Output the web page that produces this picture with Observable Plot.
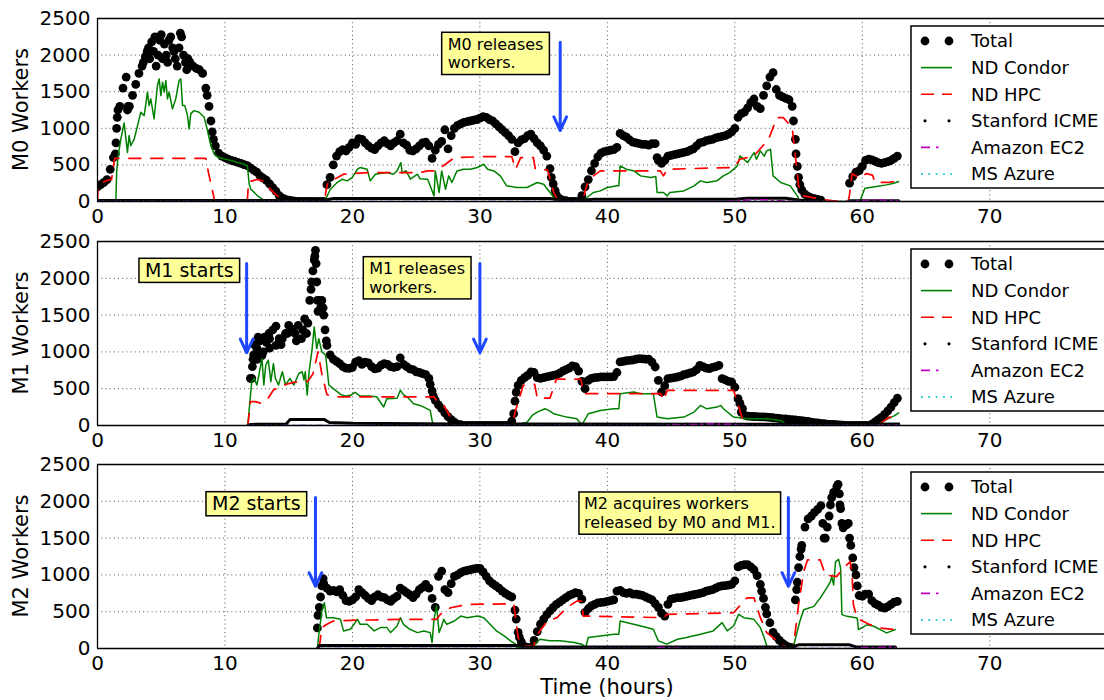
<!DOCTYPE html>
<html><head><meta charset="utf-8">
<script src="https://cdn.jsdelivr.net/npm/d3@7"></script>
<script src="https://cdn.jsdelivr.net/npm/@observablehq/plot@0.6"></script>
<style>
html,body{margin:0;padding:0;background:#fff;overflow:hidden;}
#chart{width:1104px;height:700px;position:relative;}
#chart svg{display:block;position:absolute;left:0;}
</style></head><body><div id="chart"></div>
<script>
const STEP = 0.25;
const xTicks = [0,10,20,30,40,50,60,70];
const yTicks = [0,500,1000,1500,2000,2500];
const seriesNames = ["Total","ND Condor","ND HPC","Stanford ICME","Amazon EC2","MS Azure"];
const panelLabels = ["M0 Workers","M1 Workers","M2 Workers"];
const xLabel = "Time (hours)";

// ---------- M0 ----------
const m0TotalStart = 0;
const m0Total = [
200,230,260,300, 440,600,1000,1300, 1550,1700,1300,1450, 1600,1750,1850,1980,
2100,2180,2250,2000, 2280,2150,1900,2250, 2050,1850,2300,2000, 1800,1900,1850,1820,
1800,1750,1550,1300, 950,760,660,620, 600,580,560,550, 535,520,505,490,
460,430,400,350, 320,290,240,190, 140,80,50,30, 20,10,5,0,
0,0,0,0, 0,0,0,0, 230,330,500,620, 680,710,690,740,
800,780,860,850, 800,760,730,710, 760,800,830,790, 760,800,830,920,
800,770,700,690, 720,760,800,810, 760,590,700,780, 820,980,720,900,
1000,1040,1060,1080, 1090,1100,1110,1120, 1140,1160,1150,1120, 1100,1060,1020,980,
940,900,850,680, 800,840,860,900, 920,860,800,760, 700,620,450,240,
90,40,20,10, 0,0,0,0, 80,200,300,420, 520,610,660,680,
690,700,710,740, 930,900,880,840, 810,800,790,780, 780,770,790,790,
560,520,560,620, 630,640,650,660, 670,680,700,720, 760,800,810,830,
840,850,870,880, 890,900,920,950, 1000,1150,1200,1220, 1280,1350,1400,1300,
1270,1450,1580,1700, 1760,1530,1450,1430, 1410,1390,1300,850, 330,160,100,70,
50,40,30,20, null,null,null,null, null,null,null,null, 250,340,400,420,
480,560,580,570, 550,530,520,530, 545,560,590,620];
const m0TotalExtra = [[1.4,650],[1.45,800],[1.55,1150],[1.6,1250],[2.35,1250],[2.4,1300],[3.6,1900],[3.9,2050],[4.1,1950],[4.4,2050],[4.6,1850],[4.9,2200],[5.1,1950],[5.4,2000],[5.6,2200],[5.9,2100],[6.1,1950],[6.4,2100],[6.6,2250],[6.9,1900],[7.1,1950],[8.6,1450],[8.9,1100],[9.1,850],[35.6,330],[35.9,150],[43.9,600],[54.6,1100],[54.8,650],[54.9,480],[55.1,230]];
const m0Condor = [[1.44,0],[1.5,400],[1.62,625],[1.83,853],[2.09,1073],[2.35,671],[2.48,900],[2.61,762],[2.88,853],[3.14,1036],[3.4,1219],[3.66,1173],[3.92,1493],[4.05,1310],[4.18,1402],[4.44,1128],[4.7,1584],[4.84,1675],[4.97,1447],[5.1,1630],[5.23,1493],[5.36,1653],[5.49,1402],[5.62,1493],[5.88,1265],[6.14,1402],[6.4,1653],[6.54,1675],[6.67,1310],[6.85,1310],[7.06,1173],[7.19,990],[7.32,1200],[7.58,1242],[7.97,1219],[8.37,1150],[8.63,968],[8.89,762],[9.15,648],[9.5,600],[9.93,580],[10.5,560],[10.98,534],[11.4,515],[11.76,489],[11.9,237],[12.03,169],[12.55,78],[12.94,32],[13.5,0],[17.85,0],
[17.9,32],[18.27,168],[18.8,259],[19.2,305],[19.6,282],[19.97,327],[20.4,441],[20.6,464],[21.15,441],[21.4,282],[21.8,373],[22.7,395],[23.2,373],[23.5,418],[23.8,532],[23.9,390],[24.2,420],[24.55,305],[25.1,373],[25.3,310],[25.9,305],[26.1,214],[26.4,77],[26.5,418],[26.8,123],[27.0,418],[27.3,168],[27.55,350],[27.8,259],[28.2,418],[28.7,441],[29.25,441],[29.8,464],[30.3,509],[30.6,441],[31.1,418],[31.6,350],[32.1,214],[32.9,191],[33.7,191],[34.5,259],[35.0,236],[35.5,123],[35.8,55],[36.05,0],[38.1,0],[38.4,55],[38.9,123],[39.45,145],[40.0,191],[40.75,214],[40.9,214],[41.0,486],[41.5,441],[42.1,418],[42.6,350],[43.4,327],[43.8,340],[43.9,123],[44.4,123],[44.7,77],[44.9,123],[46.0,145],[46.8,214],[47.3,282],[47.8,259],[48.6,282],[49.1,350],[49.6,395],[50.2,486],[50.4,623],[51.0,532],[51.5,668],[51.7,577],[52.0,691],[52.3,620],[52.5,691],[52.8,714],[53.0,350],[53.6,259],[54.35,214],[54.9,77],[55.1,0],[59.8,0],[60.2,182],[61.1,205],[61.9,227],[62.46,250],[62.85,273]];
const m0Hpc = [[0,0],[0.05,200],[0.4,260],[0.8,290],[1.1,300],[1.35,590],[8.5,590],[8.7,400],[9.2,0],[11.75,0],[11.85,270],[12.5,300],[13.0,280],[13.5,180],[14.0,90],[14.5,40],[15.0,10],[16,0],[17.85,0],[17.9,123],[18.1,282],[18.7,314],[19.3,373],[21.15,395],[25.3,395],[25.9,418],[26.5,418],[26.9,464],[27.3,509],[28.0,600],[30.6,614],[32.5,614],[32.8,441],[33.2,600],[34.2,600],[34.35,441],[35.3,432],[35.5,305],[35.8,123],[36.05,32],[36.3,0],[38.0,0],[38.1,32],[38.4,236],[38.9,350],[39.45,418],[44.15,418],[44.4,350],[44.7,441],[49.9,464],[50.4,577],[51.5,623],[52.65,850],[53.3,1145],[53.8,1145],[54.5,1009],[54.75,623],[55.0,214],[55.4,77],[56.7,32],[57.75,9],[58.9,5],[59.0,100],[59.2,380],[59.8,320],[60.3,380],[60.8,360],[61.0,260],[62.0,260],[62.85,280]];
const m0Icme = [[0,15],[14,15],[17.9,20],[18.5,40],[35.5,40],[36.5,15],[38.2,20],[39,30],[50,30],[51,45],[54,45],[55,20],[57,10],[57.1,null],[59,10],[62.85,10]];
const m0Ec2 = [[0,0],[49,0],[50.5,15],[52,25],[53,15],[55,0],[59,0],[60,15],[61,20],[62.8,15]];
const m0Azure = [[0,0],[62.85,0]];

// ---------- M1 ----------
const m1TotalStart = 12;
const m1Total = [
640,960,1050,1150, 1000,1130,1180,1300, 1090,1180,1180,1250, 1360,1310,1250,1360,
1180,1450,1390,1850, 2250,1700,1600,1500, 1090,960,900,870, 840,800,780,775,
790,860,880,830, 860,850,800,770, 780,820,840,830, 800,790,800,920,
830,800,770,760, 730,720,705,690, 640,470,340,280, 230,170,120,80,
45,20,10,0, 0,0,0,0, 0,0,0,0, 0,0,0,0,
0,0,60,330, 545,614,650,680, 727,720,650,640, 650,660,670,680,
690,710,740,760, 780,810,800,740, 600,500,614,640, 650,655,660,660,
660,660,665,720, 864,870,880,886, 890,900,909,905, 900,900,860,795,
614,455,540,636, 645,650,659,670, 690,700,715,727, 760,818,800,780,
773,790,800,818, 636,620,600,591, 520,364,182,140, 127,125,122,120,
118,116,114,110, 105,100,95,91, 88,82,78,75, 70,65,60,55,
45,40,36,30, 25,20,16,14, 10,8,5,3, 0,0,0,0,
0,0,0,20, 50,80,110,150, 200,250,310,370];
const m1TotalExtra = [[12.1,640],[12.15,800],[12.2,900],[12.3,1100],[12.4,900],[12.55,900],[12.6,1200],[12.7,1000],[12.9,950],[13.1,1200],[13.45,1250],[13.5,1050],[14.0,1350],[14.4,1100],[14.9,1250],[15.6,1150],[16.1,1300],[16.4,1250],[16.65,1700],[16.8,1950],[16.9,2100],[17.05,2300],[17.1,2380],[17.15,2200],[17.2,1950],[17.3,1550],[17.4,1700],[17.6,1700],[17.7,1600],[17.85,1300],[17.95,1150],[26.1,560],[26.35,400],[32.65,160],[32.85,450],[50.4,300],[50.6,230]];
const m1Condor = [[11.8,30],[12.1,595],[12.3,640],[12.5,550],[12.66,685],[12.9,910],[13.05,550],[13.2,820],[13.4,887],[13.6,595],[13.8,842],[13.96,640],[14.2,550],[14.5,730],[14.75,550],[15.1,640],[15.4,550],[15.8,707],[16.06,730],[16.2,620],[16.3,730],[16.45,414],[16.6,730],[16.84,1045],[17.0,1338],[17.2,1045],[17.36,1180],[17.6,1000],[17.9,955],[18.15,550],[18.5,500],[19.1,420],[19.45,400],[19.85,410],[20.2,450],[20.6,400],[21.3,400],[21.9,390],[22.45,252],[22.7,365],[23.5,370],[23.76,480],[24.0,420],[24.3,386],[24.8,295],[25.3,273],[25.6,250],[26.1,205],[26.25,68],[26.4,0],[32.65,0],[33.7,45],[34.1,136],[34.5,182],[35.1,227],[35.4,205],[35.8,159],[36.8,114],[37.6,91],[38.0,9],[38.5,159],[39.45,205],[40.5,227],[40.9,227],[41.0,432],[42.06,455],[42.6,432],[43.6,432],[43.9,114],[44.7,91],[46.0,114],[46.8,182],[47.3,273],[47.8,227],[48.6,250],[48.9,273],[49.1,227],[49.9,114],[51.0,91],[52.5,91],[53.6,68],[53.8,45],[54.1,0],[61.0,0],[61.5,40],[62.0,90],[62.5,130],[62.85,170]];
const m1Hpc = [[11.8,0],[12.0,324],[12.4,324],[12.8,302],[13.3,347],[13.8,482],[14.6,550],[15.4,585],[16.06,595],[16.5,600],[16.9,700],[17.3,1000],[17.6,700],[18.0,420],[18.5,390],[26.4,390],[26.6,340],[27.0,318],[27.7,114],[28.1,0],[32.5,0],[32.8,205],[33.4,545],[34.3,560],[34.5,370],[35.5,373],[36.0,630],[37.9,630],[38.2,432],[44.2,432],[44.4,341],[44.7,477],[49.9,477],[50.2,318],[50.6,91],[51.0,30],[51.5,0],[61.2,0],[62.0,100],[62.85,160]];
const m1Icme = [[11.8,0],[12.0,15],[14.8,20],[15.1,80],[17.8,80],[18.2,40],[20,30],[28,20],[58,15],[62.85,20]];
const m1Ec2 = [[11.8,0],[44.5,0],[45,15],[46,10],[48,20],[50,15],[51,0],[60,0],[62.85,5]];
const m1Azure = [[11.8,0],[62.85,0]];

// ---------- M2 ----------
const m2TotalStart = 17.25;
const m2Total = [
280,700,880,
820,780,790,770, 800,720,650,640, 660,700,800,760, 720,680,650,700,
730,700,690,660, 640,680,710,820, 790,760,730,690, 740,800,830,870,
820,680,560,980, 1050,800,760,880, 980,1000,1030,1050, 1060,1070,1080,1090,
1090,1040,980,920, 880,850,820,780, 750,720,700,520, 220,90,30,15,
20,110,230,330, 400,460,510,560, 600,630,660,690, 720,740,760,750,
670,490,540,580, 600,620,625,630, 640,650,660,780, 790,760,750,760,
740,740,730,720, 700,680,660,610, 560,480,440,600, 670,680,690,690,
700,710,720,730, 740,750,760,780, 790,800,820,840, 850,855,860,870,
920,1110,1130,1140, 1140,1110,1070,990, 870,680,470,350, 220,160,110,70,
40,20,10,660, 1100,1400,1650,1760, 1800,1850,1890,1940, 1500,1650,1950,2120,
2200,1950,1640,1680, 1500,1230,1000,720, 710,740,740,650, 610,590,560,550,
570,600,630,640];
const m2TotalExtra = [[17.3,450],[17.4,560],[17.6,850],[17.7,950],[32.85,400],[33.1,150],[52.1,780],[52.4,560],[54.85,800],[54.9,900],[55.1,1250],[55.2,1350],[56.9,1700],[57.1,1500],[57.4,1800],[57.6,2050],[58.1,2230],[58.2,2100],[58.3,1900],[58.4,1700],[58.6,1680],[58.9,1700],[59.1,1400],[59.35,1100],[59.6,850]];
const m2Condor = [[17.25,0],[17.35,171],[17.6,509],[17.8,622],[17.96,419],[18.15,419],[18.5,419],[19.06,396],[19.3,239],[19.84,261],[20.4,396],[20.6,329],[21.15,329],[21.7,239],[22.2,284],[22.7,284],[23.0,216],[23.5,306],[23.76,419],[24.0,329],[24.5,261],[25.1,216],[25.6,239],[26.1,216],[26.25,81],[26.4,396],[26.6,577],[26.8,216],[27.0,306],[27.16,396],[27.4,329],[28.0,374],[28.5,441],[29.0,419],[29.8,441],[30.3,419],[30.8,329],[31.3,239],[31.9,171],[32.4,104],[32.8,59],[32.9,14],[33.5,0],[34.2,36],[34.7,126],[35.5,104],[36.3,104],[37.4,81],[38.0,59],[38.3,14],[38.5,149],[39.45,171],[40.5,194],[40.9,194],[41.0,374],[42.06,329],[43.1,284],[43.6,261],[44.0,104],[44.67,59],[45.5,126],[46.2,149],[47.3,194],[48.3,239],[49.0,351],[49.4,239],[49.9,306],[50.3,464],[50.7,419],[51.5,396],[52.0,284],[52.3,149],[52.5,36],[52.8,0],[54.6,32],[55.1,370],[55.4,527],[56.2,572],[56.7,685],[57.2,820],[57.5,910],[57.6,977],[57.75,865],[57.9,1180],[58.14,1210],[58.3,1090],[58.4,460],[58.8,437],[59.6,414],[59.7,257],[60.4,324],[60.9,302],[61.4,257],[61.9,212],[62.6,257]];
const m2Hpc = [[17.4,14],[17.6,284],[18.0,329],[18.5,374],[19.84,383],[23.76,396],[26.6,396],[26.9,464],[27.7,554],[29.0,599],[32.65,608],[32.8,419],[33.0,149],[33.4,36],[34.2,36],[34.7,239],[35.3,374],[36.05,419],[36.8,554],[37.6,644],[38.0,644],[38.1,441],[44.4,419],[44.67,464],[49.9,486],[50.95,689],[51.5,689],[52.0,419],[52.5,216],[53.8,36],[54.35,14],[54.6,32],[55.0,595],[55.4,1045],[55.7,1203],[56.7,1203],[57.1,1000],[58.0,977],[58.5,1090],[59.05,1180],[59.2,1000],[59.3,595],[59.6,414],[59.8,392],[60.6,324],[61.4,279],[62.6,257]];
const m2Icme = [[17.25,0],[17.4,40],[33,40],[33.5,20],[54.5,20],[55,50],[59,50],[59.5,20],[62.6,20]];
const m2Ec2 = [[17.25,0],[43.5,0],[44,15],[45,10],[46,0],[59.5,0],[60,15],[61,10],[62,20],[62.6,15]];
const m2Azure = [[17.25,0],[62.6,0]];

// ---------- rendering ----------
const FONT = "'DejaVu Sans', Verdana, sans-serif";
const COL = {total:"#000000", condor:"#008000", hpc:"#ff0000", icme:"#000000", ec2:"#bf00bf", azure:"#00bfbf"};
const BLUE = "#1f47ff";
const NOTE_FILL = "#ffff99";
const pairs = a => a.map(([t,v]) => ({t, v: v == null ? NaN : v}));

const panels = [
  {label: panelLabels[0], total: m0Total, totalStart: m0TotalStart, totalExtra: m0TotalExtra, condor: m0Condor, hpc: m0Hpc, icme: m0Icme, ec2: m0Ec2, azure: m0Azure,
   top: 0, height: 232, marginTop: 18, marginBottom: 31,
   notes: [{t: 27.04, v: 2305, lines: ["M0 releases","workers."], size: 16, padX: 6, padY: 2.5}],
   arrows: [{t: 36.3, from: 2176, to: 970}]},
  {label: panelLabels[1], total: m1Total, totalStart: m1TotalStart, totalExtra: m1TotalExtra, condor: m1Condor, hpc: m1Hpc, icme: m1Icme, ec2: m1Ec2, azure: m1Azure,
   top: 224, height: 232, marginTop: 17, marginBottom: 31,
   notes: [{t: 3.29, v: 2265, lines: ["M1 starts"], size: 19, padX: 6, padY: 1},
           {t: 20.89, v: 2287, lines: ["M1 releases","workers."], size: 16, padX: 6, padY: 2.5}],
   arrows: [{t: 11.7, from: 2200, to: 990}, {t: 30.0, from: 2200, to: 990}]},
  {label: panelLabels[2], total: m2Total, totalStart: m2TotalStart, totalExtra: m2TotalExtra, condor: m2Condor, hpc: m2Hpc, icme: m2Icme, ec2: m2Ec2, azure: m2Azure,
   top: 448, height: 252, marginTop: 16, marginBottom: 52, xLabel: true,
   notes: [{t: 8.55, v: 2124, lines: ["M2 starts"], size: 19, padX: 6, padY: 1},
           {t: 37.81, v: 2120, lines: ["M2 acquires workers","released by M0 and M1."], size: 16, padX: 5, padY: 2.5}],
   arrows: [{t: 17.1, from: 2050, to: 845}, {t: 54.2, from: 2050, to: 845}]}
];

const root = document.getElementById("chart");

panels.forEach(p => {
  const tot = p.total.map((v,i) => ({t: p.totalStart + i*STEP, v}))
    .filter(d => d.v != null).concat(pairs(p.totalExtra));
  const gridStyle = {stroke: "#000", strokeOpacity: 0.85, strokeWidth: 0.8, strokeDasharray: "1,3.2"};
  const plot = Plot.plot({
    width: 1104, height: p.height,
    marginLeft: 97, marginRight: 0, marginTop: p.marginTop, marginBottom: p.marginBottom,
    style: {fontFamily: FONT, fontSize: "20px", color: "#000", background: "transparent", overflow: "hidden"},
    x: {domain: [0, 79], ticks: xTicks, tickFormat: d => String(d), tickSize: 0, tickPadding: 7, label: null},
    y: {domain: [0, 2500], ticks: yTicks, tickFormat: d => String(d), tickSize: 0, tickPadding: 7, label: null},
    marks: [
      Plot.ruleX(xTicks.filter(t => t > 0), gridStyle),
      Plot.ruleY(yTicks.filter(v => v > 0 && v < 2500), gridStyle),
      Plot.dot(tot, {x: "t", y: "v", r: 4.4, fill: COL.total, clip: true}),
      Plot.line(pairs(p.condor), {x: "t", y: "v", stroke: COL.condor, strokeWidth: 1.5, clip: true}),
      Plot.line(pairs(p.hpc), {x: "t", y: "v", stroke: COL.hpc, strokeWidth: 1.7, strokeDasharray: "12,10", clip: true}),
      Plot.line(pairs(p.icme), {x: "t", y: "v", stroke: COL.icme, strokeWidth: 3, clip: true}),
      Plot.line(pairs(p.ec2), {x: "t", y: "v", stroke: COL.ec2, strokeWidth: 1.5, strokeDasharray: "7,4,2,4", clip: true}),
      Plot.line(pairs(p.azure), {x: "t", y: "v", stroke: COL.azure, strokeWidth: 1.5, strokeDasharray: "1.5,3", clip: true}),
      Plot.ruleY([0, 2500], {stroke: "#000", strokeWidth: 1.3}),
      Plot.ruleX([0], {stroke: "#000", strokeWidth: 1.3}),
      Plot.arrow(p.arrows, {x1: "t", x2: "t", y1: "from", y2: "to", stroke: BLUE, strokeWidth: 3, headLength: 7.5, headAngle: 50})
    ]
  });
  plot.style.top = p.top + "px";
  root.appendChild(plot);
  const sx = plot.scale("x"), sy = plot.scale("y");
  const svg = d3.select(plot);

  // y axis title
  const cy = p.marginTop + (p.height - p.marginTop - p.marginBottom) / 2;
  svg.append("text").attr("transform", `translate(28,${cy}) rotate(-90)`)
    .attr("text-anchor", "middle").attr("font-size", 21).attr("font-family", FONT).attr("fill", "#000")
    .text(p.label);

  if (p.xLabel) {
    svg.append("text").attr("x", 607).attr("y", p.height - 6).attr("text-anchor", "middle")
      .attr("font-size", 21).attr("font-family", FONT).attr("fill", "#000").text(xLabel);
  }

  // annotation boxes
  p.notes.forEach(n => {
    const g = svg.append("g").attr("font-family", FONT).attr("font-size", n.size).attr("text-anchor", "start");
    const x0 = sx.apply(n.t), y0 = sy.apply(n.v);
    const lh = n.size * 1.164;
    const rect = g.append("rect");
    const texts = n.lines.map((s, i) => g.append("text")
      .attr("x", x0 + n.padX).attr("y", y0 + n.padY + 0.93 * n.size + i * lh)
      .attr("text-anchor", "start").attr("fill", "#000").text(s));
    const w = d3.max(texts, t => t.node().getComputedTextLength());
    rect.attr("x", x0).attr("y", y0).attr("width", w + 2 * n.padX)
      .attr("height", n.lines.length * lh + 2 * n.padY)
      .attr("fill", NOTE_FILL).attr("stroke", "#000").attr("stroke-width", 1.5);
  });

  // legend
  const lt = p.marginTop + 8;
  const lg = svg.append("g").attr("font-family", FONT).attr("text-anchor", "start");
  lg.append("rect").attr("x", 911).attr("y", lt).attr("width", 260).attr("height", 162)
    .attr("fill", "#fff").attr("stroke", "#000").attr("stroke-width", 1.5);
  seriesNames.forEach((name, i) => {
    const y = lt + 15 + i * 26.6;
    if (i === 0 || i === 3) {
      const r = i === 0 ? 4.4 : 1.6;
      [925, 949].forEach(x => lg.append("circle").attr("cx", x).attr("cy", y).attr("r", r).attr("fill", "#000"));
    } else {
      const st = [null, {c: COL.condor, d: null}, {c: COL.hpc, d: "13,8"}, null, {c: COL.ec2, d: "9,6,2.5,20"}, {c: COL.azure, d: "2,5.3"}][i];
      const ln = lg.append("line").attr("x1", 921).attr("x2", 952).attr("y1", y).attr("y2", y)
        .attr("stroke", st.c).attr("stroke-width", 1.6);
      if (st.d) ln.attr("stroke-dasharray", st.d);
    }
    lg.append("text").attr("x", 971).attr("y", y).attr("dy", "0.36em").attr("font-size", 18)
      .attr("text-anchor", "start").attr("fill", "#000").text(name);
  });
});
</script></body></html>
